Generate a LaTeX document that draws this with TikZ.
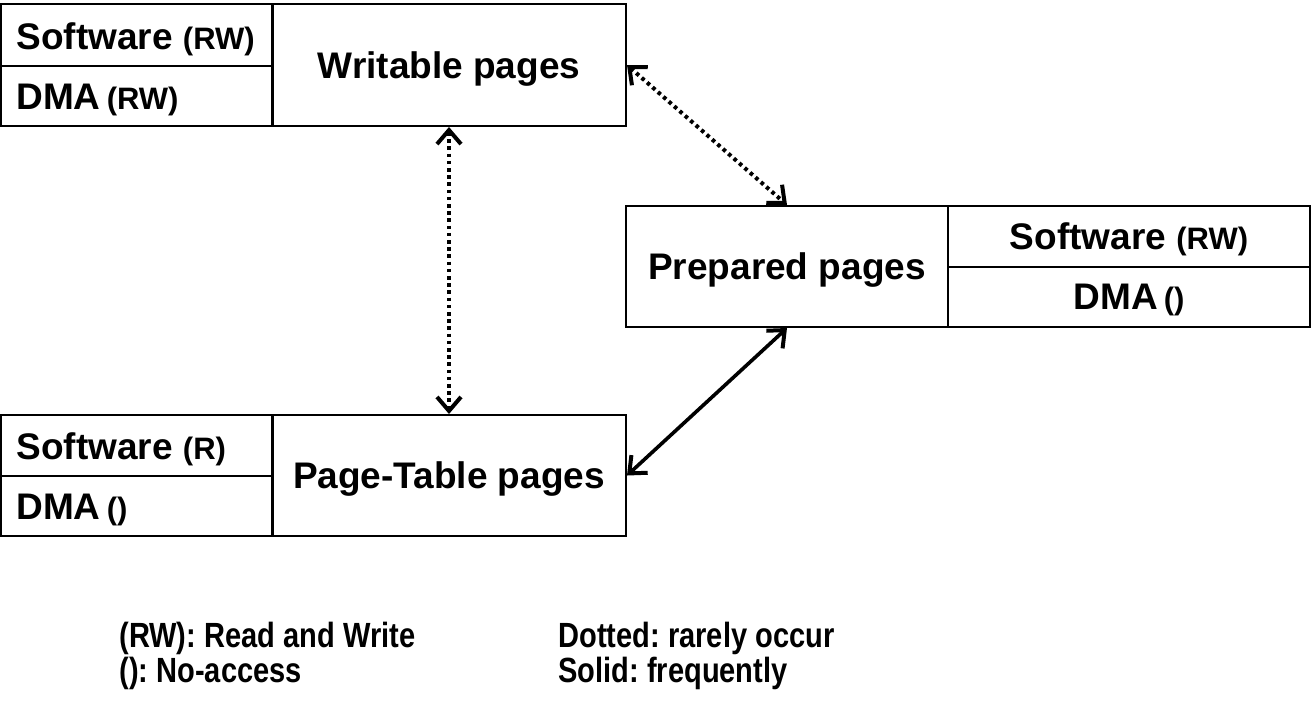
\documentclass[tikz,border=0pt]{standalone}
\usepackage{fontspec}
\setmainfont{Liberation Sans}
\newfontfamily\narrowfont[FakeStretch=0.83]{Liberation Sans}
\usetikzlibrary{arrows.meta}
\newcommand\smallpart[1]{{\fontsize{15.5}{18}\selectfont #1}}
\tikzset{
  cell/.style={draw, line width=1pt, inner sep=0pt, text depth=0pt, font=\fontsize{18.5}{22}\selectfont\bfseries},
  celltext/.style={anchor=west, inner sep=0pt, text depth=0pt, font=\fontsize{18.5}{22}\selectfont\bfseries},
  legend/.style={anchor=west, inner sep=0pt, font=\narrowfont\fontsize{17.5}{20}\selectfont\bfseries},
  tipv/.style={{Straight Barb[length=7pt,width=12pt,line width=2pt]}-{Straight Barb[length=7pt,width=12pt,line width=2pt]}},
  rare/.style={tipv, line width=2pt, dash pattern=on 1.8pt off 1.8pt},
  often/.style={tipv, line width=1.8pt},
}
\begin{document}
\frenchspacing
\begin{tikzpicture}[x=0.5pt,y=-0.5pt]
\useasboundingbox (0,0) rectangle (1312,713);
% Writable pages
\node[cell, minimum width=136pt, minimum height=31pt] (wsw) at (137,35) {};
\node[cell, minimum width=136pt, minimum height=30pt] (wdma) at (137,96) {};
\node[cell, minimum width=177pt, minimum height=61pt] (wmain) at (449,65) {Writable pages};
\node[celltext] (wswt) at (16,36) {Software \smallpart{(RW)}};
\node[celltext] (wdmat) at (16,97) {DMA\,\smallpart{(RW)}};
% Prepared pages
\node[cell, minimum width=161pt, minimum height=60.5pt] (pmain) at (787,266.5) {Prepared pages};
\node[cell, minimum width=181pt, minimum height=30.5pt] (psw) at (1129,236.5) {Software \smallpart{(RW)}};
\node[cell, minimum width=181pt, minimum height=30pt] (pdma) at (1129,297) {DMA\,\smallpart{()}};
% Page-Table pages
\node[cell, minimum width=136pt, minimum height=30.5pt] (tsw) at (137,445.5) {};
\node[cell, minimum width=136pt, minimum height=30pt] (tdma) at (137,506) {};
\node[cell, minimum width=177pt, minimum height=60.5pt] (tmain) at (449,475.5) {Page-Table pages};
\node[celltext] (tswt) at (16,446) {Software \smallpart{(R)}};
\node[celltext] (tdmat) at (16,507) {DMA\,\smallpart{()}};
% connectors
\draw[rare] (wmain.south) -- (tmain.north);
\draw[rare] (wmain.east) -- (pmain.north);
\draw[often] (pmain.south) -- (tmain.east);
% legend
\node[legend] (l1) at (119,638) {(RW): Read and Write};
\node[legend] (l2) at (119,673) {(): No-access};
\node[legend] (l3) at (558,638) {Dotted: rarely occur};
\node[legend] (l4) at (558,673) {Solid: frequently};
\end{tikzpicture}
\end{document}
